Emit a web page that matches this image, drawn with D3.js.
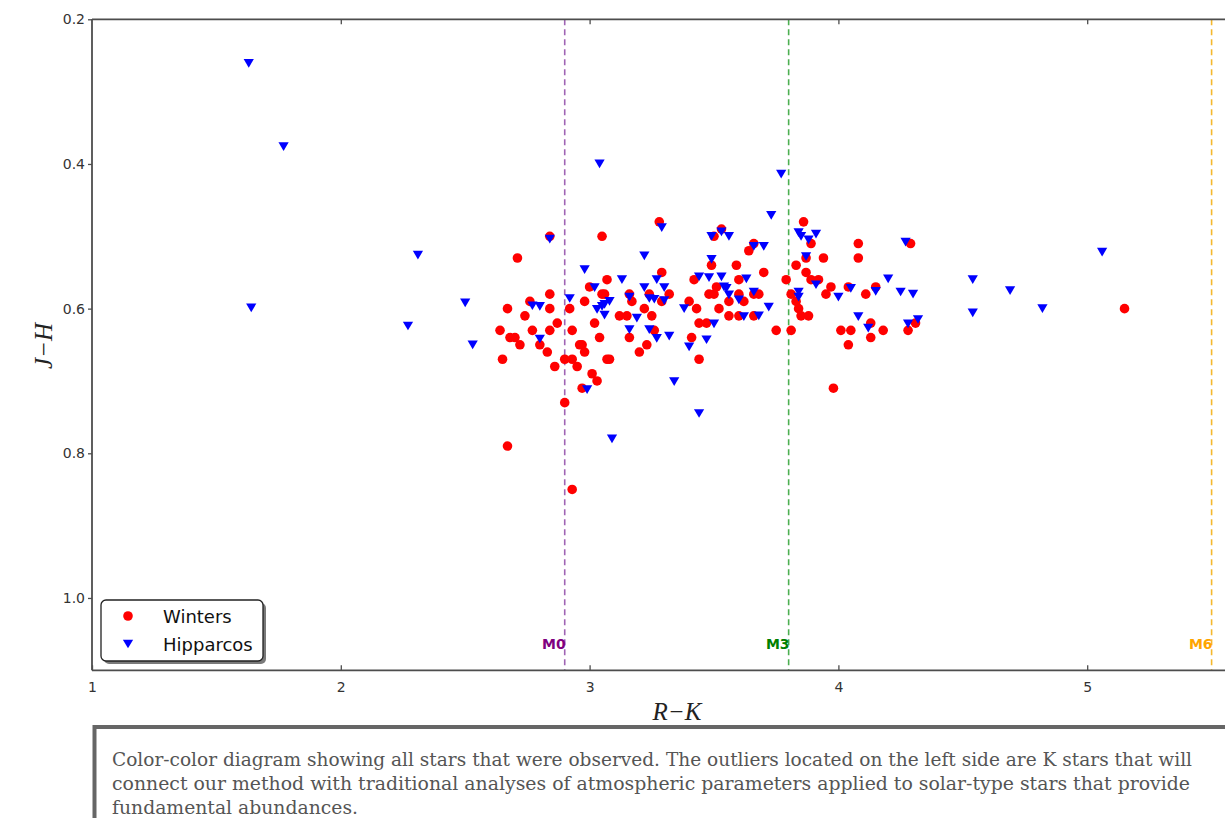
<!DOCTYPE html>
<html>
<head>
<meta charset="utf-8">
<script src="https://cdn.jsdelivr.net/npm/d3@7"></script>
<style>
  body { margin: 0; background: #fff; overflow: hidden; }
  svg { display: block; }
  .tick text { font-size: 14px; font-family: "DejaVu Sans"; }
</style>
</head>
<body>
<div id="chart"></div>
<script>
// Winters sample: [R-K, J-H]
var winters = [
  [3.28,0.48],[2.84,0.50],[3.05,0.50],[2.71,0.53],[3.29,0.55],[3.07,0.56],[3.42,0.56],
  [3.00,0.57],[2.84,0.58],[3.05,0.58],[3.06,0.58],[3.16,0.58],[3.24,0.58],[3.32,0.58],
  [2.76,0.59],[2.98,0.59],[3.17,0.59],[3.29,0.59],[3.40,0.59],[2.67,0.60],[2.84,0.60],
  [2.92,0.60],[3.22,0.60],[3.43,0.60],[2.74,0.61],[3.12,0.61],[3.15,0.61],[3.25,0.61],
  [2.87,0.62],[3.02,0.62],[2.64,0.63],[2.77,0.63],[2.84,0.63],[2.93,0.63],[3.26,0.63],
  [2.68,0.64],[2.70,0.64],[3.04,0.64],[3.16,0.64],[3.41,0.64],[2.72,0.65],[2.80,0.65],
  [2.96,0.65],[2.97,0.65],[3.23,0.65],[2.83,0.66],[2.98,0.66],[3.20,0.66],[2.65,0.67],
  [2.90,0.67],[2.93,0.67],[3.07,0.67],[3.08,0.67],[3.44,0.67],[2.86,0.68],[2.95,0.68],
  [3.01,0.69],[3.03,0.70],[2.97,0.71],[2.90,0.73],[2.67,0.79],[2.93,0.85],
  [3.86,0.48],[3.53,0.49],[3.50,0.50],[3.66,0.51],[3.64,0.52],[3.89,0.51],[4.08,0.51],
  [4.29,0.51],[4.08,0.53],[3.87,0.53],[3.94,0.53],[3.49,0.54],[3.59,0.54],[3.83,0.54],
  [3.70,0.55],[3.87,0.55],[3.60,0.56],[3.79,0.56],[3.89,0.56],[3.92,0.56],[3.51,0.57],
  [3.97,0.57],[4.15,0.57],[4.04,0.57],[3.48,0.58],[3.50,0.58],[3.60,0.58],[3.66,0.58],
  [3.68,0.58],[3.81,0.58],[3.95,0.58],[4.11,0.58],[3.56,0.59],[3.62,0.59],[3.83,0.59],
  [3.52,0.60],[3.84,0.60],[3.56,0.61],[3.60,0.61],[3.66,0.61],[3.85,0.61],[3.88,0.61],
  [3.44,0.62],[3.47,0.62],[4.13,0.62],[4.31,0.62],[3.75,0.63],[3.81,0.63],[4.01,0.63],
  [4.05,0.63],[4.18,0.63],[4.28,0.63],[4.04,0.65],[4.13,0.64],[3.98,0.71],[5.15,0.60]
];

// Hipparcos sample: [R-K, J-H]
var hipparcos = [
  [1.63,0.261],[1.77,0.376],[1.64,0.599],[2.31,0.526],[2.27,0.624],[2.50,0.592],[2.53,0.650],
  [3.04,0.400],[3.77,0.414],[3.29,0.488],[2.84,0.504],[3.22,0.527],[2.98,0.546],[3.13,0.560],
  [3.27,0.560],[3.02,0.571],[3.22,0.571],[3.30,0.571],[2.92,0.586],[3.08,0.590],[3.06,0.594],
  [3.16,0.584],[3.24,0.586],[3.26,0.587],[3.30,0.589],[2.77,0.596],[2.80,0.597],[3.03,0.601],
  [3.05,0.597],[3.38,0.600],[3.06,0.609],[3.19,0.613],[3.16,0.629],[3.24,0.629],[2.80,0.642],
  [3.27,0.641],[3.32,0.638],[3.40,0.653],[3.34,0.701],[2.99,0.712],[3.09,0.780],[3.44,0.745],
  [3.73,0.471],[3.49,0.500],[3.53,0.494],[3.56,0.500],[3.84,0.495],[3.85,0.500],[3.91,0.497],
  [3.88,0.505],[3.66,0.514],[3.70,0.514],[4.27,0.508],[3.49,0.532],[3.87,0.528],[3.44,0.556],
  [3.48,0.557],[3.53,0.556],[3.63,0.559],[4.20,0.559],[3.54,0.570],[3.55,0.572],[3.91,0.567],
  [3.66,0.577],[3.84,0.577],[4.05,0.572],[4.15,0.576],[4.25,0.577],[4.30,0.580],[3.56,0.581],
  [3.84,0.584],[4.00,0.584],[3.60,0.588],[3.72,0.598],[3.62,0.611],[3.68,0.610],[3.50,0.621],
  [3.47,0.643],[4.08,0.611],[4.12,0.627],[4.28,0.621],[4.32,0.615],[4.54,0.560],[4.54,0.606],
  [4.69,0.575],[4.82,0.600],[5.06,0.522]
];

var xTicks = [1, 2, 3, 4, 5];
var yTicks = [0.2, 0.4, 0.6, 0.8, 1.0];
var spectral = [
  {label: "M0", rk: 2.9, line: "#a064b4", text: "#800080"},
  {label: "M3", rk: 3.8, line: "#4caf50", text: "#008000"},
  {label: "M6", rk: 5.5, line: "#f5b82e", text: "#ffa500"}
];
var legendItems = [
  {name: "Winters", shape: "circle", color: "#ff0000"},
  {name: "Hipparcos", shape: "tri", color: "#0000ff"}
];
var captionLines = [
  "Color-color diagram showing all stars that were observed. The outliers located on the left side are K stars that will",
  "connect our method with traditional analyses of atmospheric parameters applied to solar-type stars that provide",
  "fundamental abundances."
];

var W = 1225, H = 818;
var plotLeft = 92, plotTop = 19.3, plotBottom = 670.3, unit = 248.8;

var x = d3.scaleLinear().domain([1, 5.6]).range([plotLeft, plotLeft + 4.6 * unit]);
var y = d3.scaleLinear().domain([0.2, 1.1]).range([plotTop, plotBottom]);

var svg = d3.select("#chart").append("svg").attr("width", W).attr("height", H);

// downward triangle, centred on its bounding box like matplotlib 'v'
var triDown = {
  draw: function(ctx, size) {
    var w = Math.sqrt(size), h = w * 0.85;
    ctx.moveTo(0, h / 2);
    ctx.lineTo(-w / 2, -h / 2);
    ctx.lineTo(w / 2, -h / 2);
    ctx.closePath();
  }
};
var triPath = d3.symbol().type(triDown).size(105)();

// spectral type lines
var sp = svg.append("g");
sp.selectAll("line").data(spectral).enter().append("line")
  .attr("x1", function(d){return x(d.rk)}).attr("x2", function(d){return x(d.rk)})
  .attr("y1", plotTop).attr("y2", plotBottom)
  .attr("stroke", function(d){return d.line})
  .attr("stroke-width", 1.6)
  .attr("stroke-dasharray", "6,4");
sp.selectAll("text").data(spectral).enter().append("text")
  .attr("x", function(d){return x(d.rk) + 1})
  .attr("y", 649)
  .attr("text-anchor", "end")
  .attr("fill", function(d){return d.text})
  .attr("font-family", "DejaVu Sans")
  .attr("font-weight", "bold")
  .attr("font-size", 14)
  .text(function(d){return d.label});

// points
svg.append("g").selectAll("circle").data(winters).enter().append("circle")
  .attr("cx", function(d){return x(d[0])})
  .attr("cy", function(d){return y(d[1])})
  .attr("r", 4.8)
  .attr("fill", "#ff0000");

svg.append("g").selectAll("path").data(hipparcos).enter().append("path")
  .attr("d", triPath)
  .attr("transform", function(d){return "translate(" + x(d[0]) + "," + y(d[1]) + ")"})
  .attr("fill", "#0000ff");

// frame and axes
var frameCol = "#4d4d4d";
svg.append("line").attr("x1", plotLeft).attr("x2", W + 20).attr("y1", plotTop).attr("y2", plotTop)
  .attr("stroke", frameCol).attr("stroke-width", 1.8);
svg.append("line").attr("x1", plotLeft).attr("x2", W + 20).attr("y1", plotBottom).attr("y2", plotBottom)
  .attr("stroke", frameCol).attr("stroke-width", 1.8);
svg.append("line").attr("x1", plotLeft).attr("x2", plotLeft).attr("y1", plotTop).attr("y2", plotBottom)
  .attr("stroke", frameCol).attr("stroke-width", 1.8);

var xAxis = svg.append("g").attr("transform", "translate(0," + plotBottom + ")")
  .call(d3.axisBottom(x).tickValues(xTicks).tickSize(-5).tickPadding(12).tickFormat(d3.format("d")));
var xTop = svg.append("g").attr("transform", "translate(0," + plotTop + ")")
  .call(d3.axisTop(x).tickValues(xTicks.slice(1)).tickSize(-5).tickFormat(""));
var yAxis = svg.append("g").attr("transform", "translate(" + plotLeft + ",0)")
  .call(d3.axisLeft(y).tickValues(yTicks).tickSize(4).tickPadding(3).tickFormat(d3.format(".1f")));

[xAxis, xTop, yAxis].forEach(function(g){
  g.attr("font-size", 14).attr("font-family", "DejaVu Sans");
  g.select(".domain").remove();
  g.selectAll(".tick line").attr("stroke", frameCol).attr("stroke-width", 1.3);
  g.selectAll(".tick text").attr("fill", "#333").attr("font-size", 14);
});

// axis titles
svg.append("text").attr("x", 677).attr("y", 720).attr("text-anchor", "middle")
  .attr("font-family", "Liberation Serif").attr("font-style", "italic").attr("font-size", 25)
  .attr("fill", "#222").text("R\u2212K");
svg.append("text").attr("transform", "translate(52,346) rotate(-90)").attr("text-anchor", "middle")
  .attr("font-family", "Liberation Serif").attr("font-style", "italic").attr("font-size", 25)
  .attr("fill", "#222").text("J\u2212H");

// legend
var lg = svg.append("g").attr("transform", "translate(101,600)");
lg.append("rect").attr("x", 3).attr("y", 3).attr("width", 162).attr("height", 61).attr("rx", 5)
  .attr("fill", "#7a7a7a");
lg.append("rect").attr("width", 162).attr("height", 61).attr("rx", 5)
  .attr("fill", "#fff").attr("stroke", "#222").attr("stroke-width", 1.3);
var li = lg.selectAll("g.item").data(legendItems).enter().append("g").attr("class", "item")
  .attr("transform", function(d, i){return "translate(0," + (16 + i * 28) + ")"});
li.filter(function(d){return d.shape == "circle"}).append("circle")
  .attr("cx", 27).attr("cy", 0).attr("r", 4.8).attr("fill", function(d){return d.color});
li.filter(function(d){return d.shape == "tri"}).append("path")
  .attr("d", triPath).attr("transform", "translate(27,0)").attr("fill", function(d){return d.color});
li.append("text").attr("x", 62).attr("y", 6.5)
  .attr("font-family", "DejaVu Sans").attr("font-size", 18).attr("fill", "#111")
  .text(function(d){return d.name});

// caption box
svg.append("rect").attr("x", 94.5).attr("y", 727).attr("width", W).attr("height", 200)
  .attr("fill", "#fff").attr("stroke", "#666").attr("stroke-width", 4);
var capLen = [1080, 1078, 246];
svg.append("g").selectAll("text").data(captionLines).enter().append("text")
  .attr("x", 112)
  .attr("y", function(d, i){return 766 + i * 24})
  .attr("textLength", function(d, i){return capLen[i]})
  .attr("lengthAdjust", "spacingAndGlyphs")
  .attr("fill", "#555")
  .attr("font-family", "DejaVu Serif")
  .attr("font-size", 18)
  .text(function(d){return d});
</script>
</body>
</html>
